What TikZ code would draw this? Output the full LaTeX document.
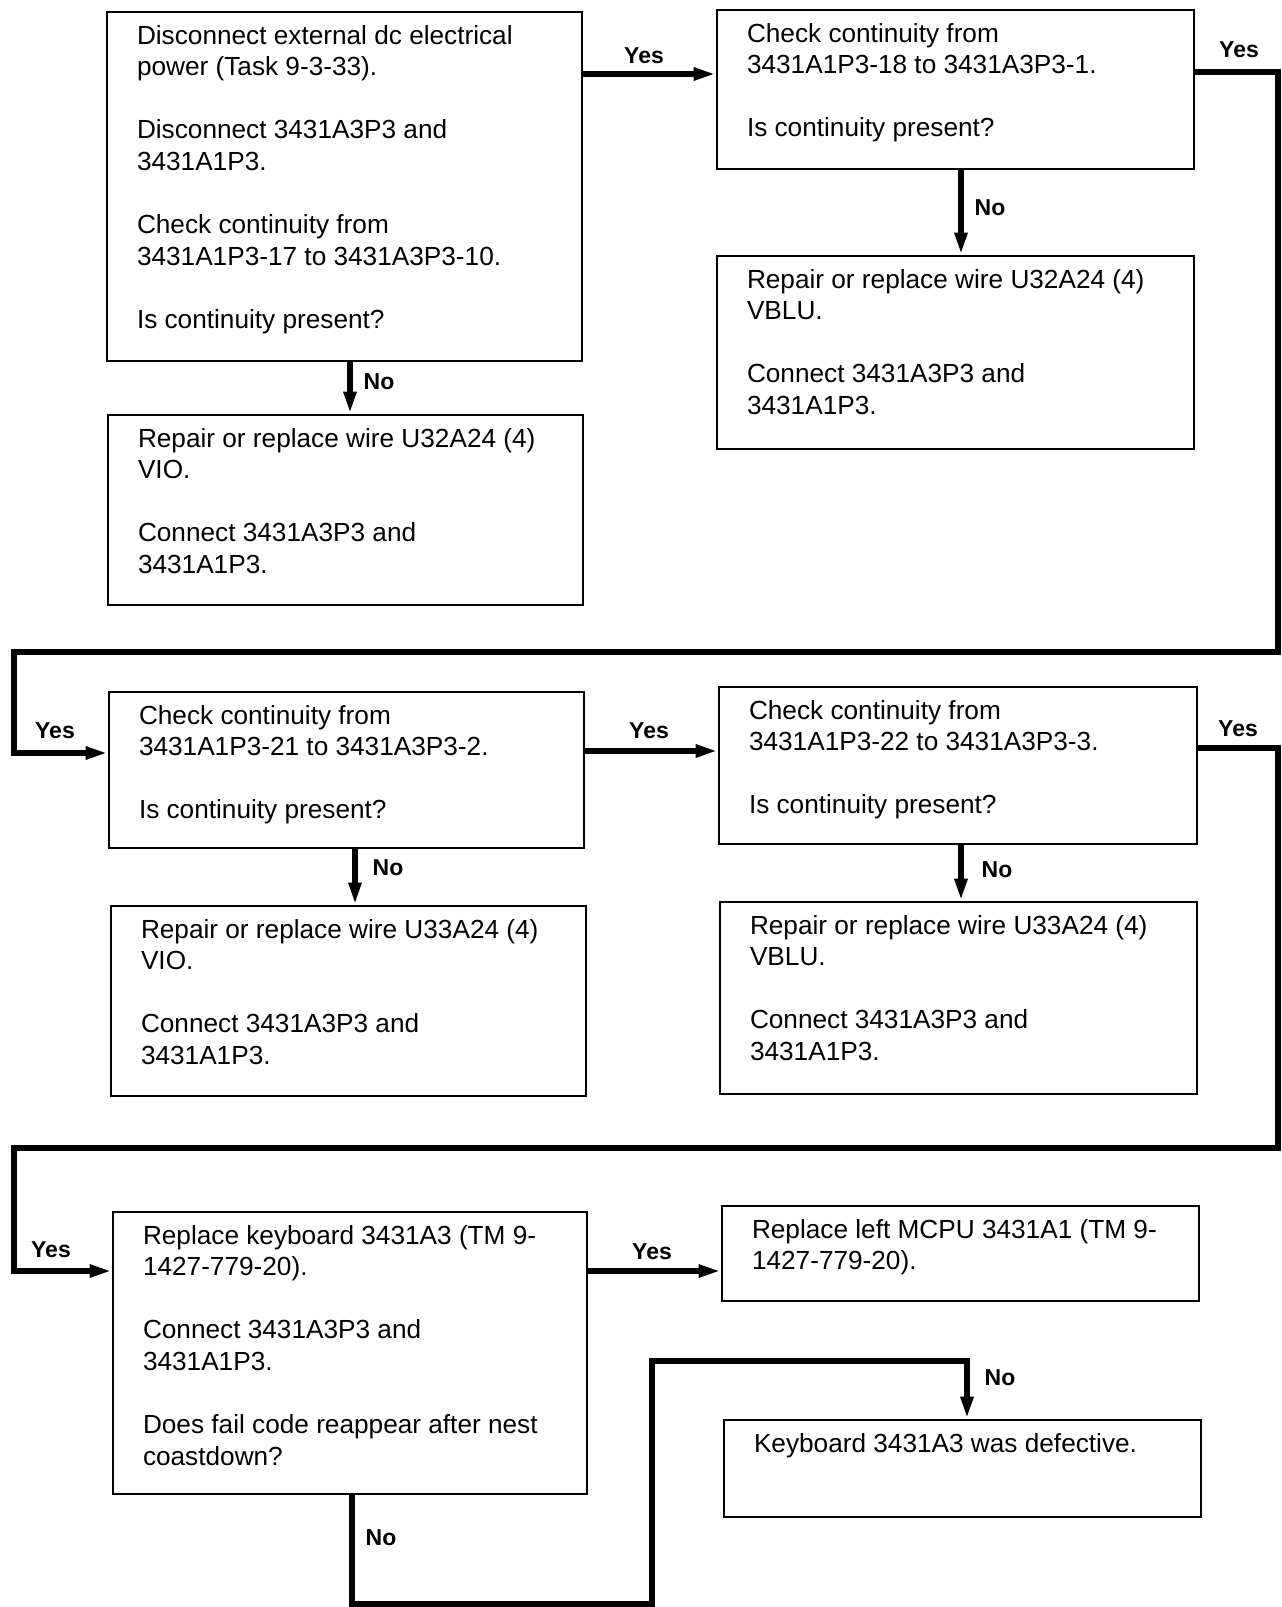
\documentclass[tikz,border=0pt]{standalone}
\usepackage{fontspec}
\setmainfont{Liberation Sans}
\usetikzlibrary{arrows.meta,fit}
\tikzset{
  box/.style={draw, line width=1.4pt, inner sep=0pt},
  txt/.style={anchor=north west, align=left, inner sep=0pt, font=\fontsize{13.1}{15.8}\selectfont},
  conn/.style={line width=2.8pt},
  arr/.style={conn, -{Triangle[length=11pt,width=6pt]}},
  lbl/.style={font=\bfseries\fontsize{11.5}{12}\selectfont, inner sep=0pt}
}
\newcommand{\gap}{\\[15.8pt]}
\newcommand{\st}{\rule{0pt}{10pt}}
\begin{document}
\begin{tikzpicture}[x=0.5pt,y=-0.5pt]
\useasboundingbox (0,0) rectangle (1281,1607);
% boxes
\node[box, fit={(107,12)(582,361)}] (A) {};
\node[box, fit={(108,415)(583,605)}] (A1) {};
\node[box, fit={(717,10)(1194,169)}] (B) {};
\node[box, fit={(717,256)(1194,449)}] (B1) {};
\node[box, fit={(109,692)(584,848)}] (C) {};
\node[box, fit={(111,906)(586,1096)}] (C1) {};
\node[box, fit={(719,687)(1197,844)}] (D) {};
\node[box, fit={(720,902)(1197,1094)}] (D1) {};
\node[box, fit={(113,1212)(587,1494)}] (E) {};
\node[box, fit={(722,1206)(1199,1301)}] (F) {};
\node[box, fit={(724,1420)(1201,1517)}] (G) {};
% texts
\node[txt] (tA) at ([shift={(31,13)}]A.north west) {\st Disconnect external dc electrical\\ power (Task 9-3-33).\gap Disconnect 3431A3P3 and\\ 3431A1P3.\gap Check continuity from\\ 3431A1P3-17 to 3431A3P3-10.\gap Is continuity present?};
\node[txt] (tA1) at ([shift={(31,13)}]A1.north west) {\st Repair or replace wire U32A24 (4)\\ VIO.\gap Connect 3431A3P3 and\\ 3431A1P3.};
\node[txt] (tB) at ([shift={(31,13)}]B.north west) {\st Check continuity from\\ 3431A1P3-18 to 3431A3P3-1.\gap Is continuity present?};
\node[txt] (tB1) at ([shift={(31,13)}]B1.north west) {\st Repair or replace wire U32A24 (4)\\ VBLU.\gap Connect 3431A3P3 and\\ 3431A1P3.};
\node[txt] (tC) at ([shift={(31,13)}]C.north west) {\st Check continuity from\\ 3431A1P3-21 to 3431A3P3-2.\gap Is continuity present?};
\node[txt] (tC1) at ([shift={(31,13)}]C1.north west) {\st Repair or replace wire U33A24 (4)\\ VIO.\gap Connect 3431A3P3 and\\ 3431A1P3.};
\node[txt] (tD) at ([shift={(31,13)}]D.north west) {\st Check continuity from\\ 3431A1P3-22 to 3431A3P3-3.\gap Is continuity present?};
\node[txt] (tD1) at ([shift={(31,13)}]D1.north west) {\st Repair or replace wire U33A24 (4)\\ VBLU.\gap Connect 3431A3P3 and\\ 3431A1P3.};
\node[txt] (tE) at ([shift={(31,13)}]E.north west) {\st Replace keyboard 3431A3 (TM 9-\\ 1427-779-20).\gap Connect 3431A3P3 and\\ 3431A1P3.\gap Does fail code reappear after nest\\ coastdown?};
\node[txt] (tF) at ([shift={(31,13)}]F.north west) {\st Replace left MCPU 3431A1 (TM 9-\\ 1427-779-20).};
\node[txt] (tG) at ([shift={(31,13)}]G.north west) {\st Keyboard 3431A3 was defective.};
% helper coordinates
\coordinate (yAB) at (0,74);
\coordinate (xA) at (350,0);
\coordinate (xB) at (961,0);
\coordinate (r1a) at (1278,72);
\coordinate (r1b) at (1278,652);
\coordinate (l1a) at (14,652);
\coordinate (l1b) at (14,753);
\coordinate (yCD) at (0,751);
\coordinate (xC) at (355,0);
\coordinate (xD) at (961,0);
\coordinate (r2a) at (1278,748);
\coordinate (r2b) at (1278,1148);
\coordinate (l2a) at (14,1148);
\coordinate (l2b) at (14,1271);
\coordinate (yEF) at (0,1271);
\coordinate (xE) at (352,0);
\coordinate (b1) at (352,1604);
\coordinate (b2) at (652,1604);
\coordinate (b3) at (652,1361);
\coordinate (b4) at (967,1361);
% connectors
\draw[arr] (A.east |- yAB) -- (B.west |- yAB);
\draw[arr] (A.south -| xA) -- (A1.north -| xA);
\draw[arr] (B.south -| xB) -- (B1.north -| xB);
\draw[arr] (B.east |- r1a) -- (r1a) -- (r1b) -- (l1a) -- (l1b) -- (C.west |- l1b);
\draw[arr] (C.east |- yCD) -- (D.west |- yCD);
\draw[arr] (C.south -| xC) -- (C1.north -| xC);
\draw[arr] (D.south -| xD) -- (D1.north -| xD);
\draw[arr] (D.east |- r2a) -- (r2a) -- (r2b) -- (l2a) -- (l2b) -- (E.west |- l2b);
\draw[arr] (E.east |- yEF) -- (F.west |- yEF);
\draw[arr] (E.south -| xE) -- (b1) -- (b2) -- (b3) -- (b4) -- (G.north -| b4);
% labels
\node[lbl] (lAB) at (644,56) {Yes};
\node[lbl] (lAA) at (379,382) {No};
\node[lbl] (lBr) at (1239,50) {Yes};
\node[lbl] (lBB) at (990,208) {No};
\node[lbl] (lCl) at (55,731) {Yes};
\node[lbl] (lCD) at (649,731) {Yes};
\node[lbl] (lCC) at (388,868) {No};
\node[lbl] (lDD) at (997,870) {No};
\node[lbl] (lDr) at (1238,729) {Yes};
\node[lbl] (lEl) at (51,1250) {Yes};
\node[lbl] (lEF) at (652,1252) {Yes};
\node[lbl] (lEb) at (381,1538) {No};
\node[lbl] (lG) at (1000,1378) {No};
\end{tikzpicture}
\end{document}
